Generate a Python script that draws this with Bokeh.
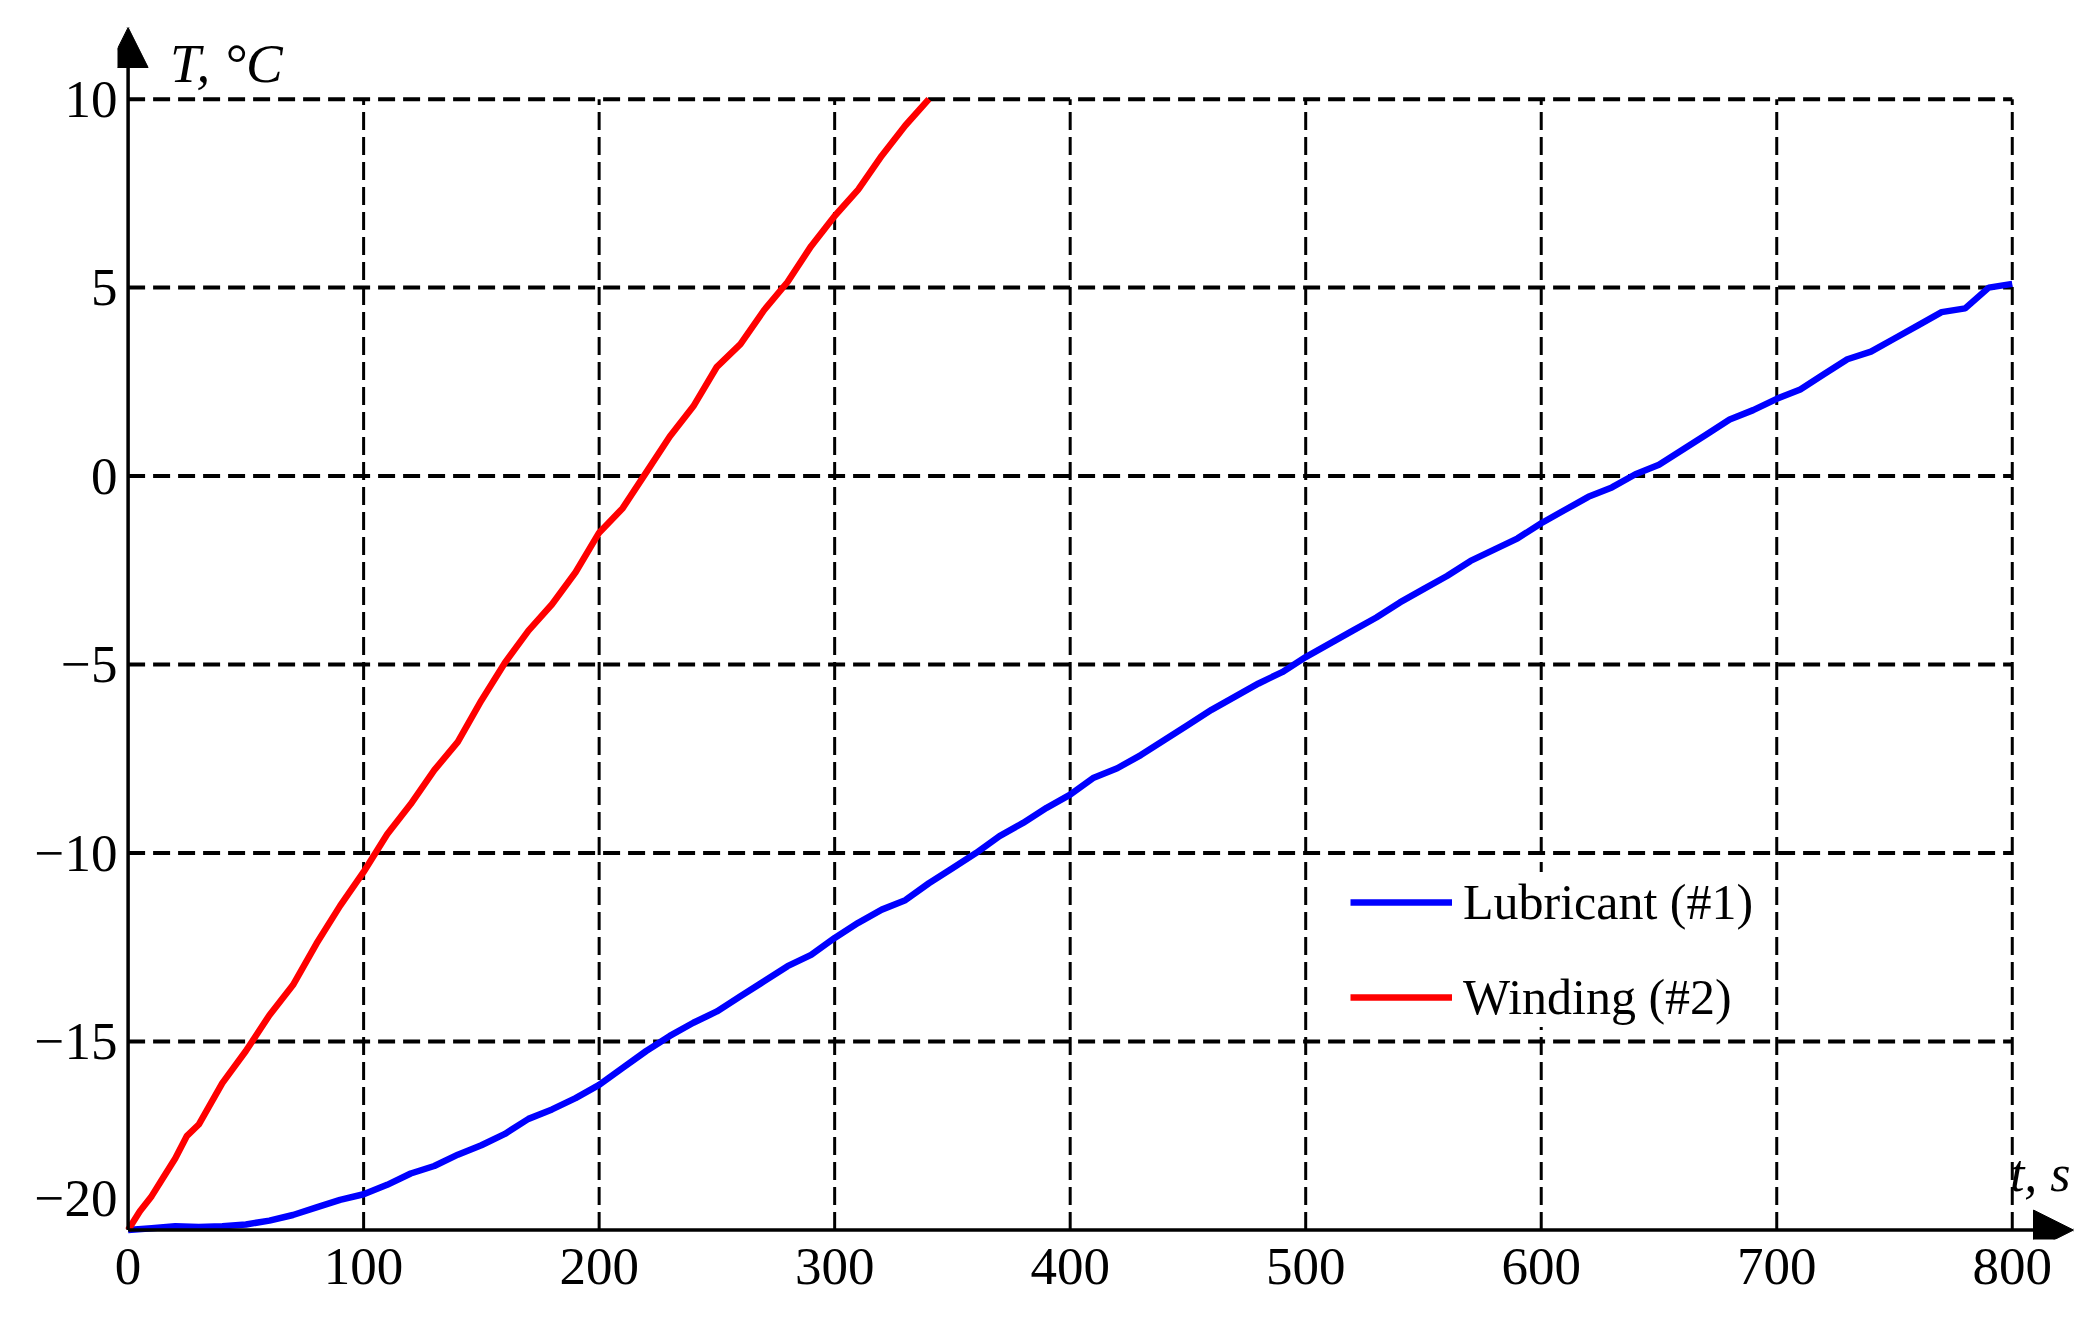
from bokeh.plotting import figure
from bokeh.models import Range1d, FixedTicker, Arrow, NormalHead, Label, Legend, LegendItem
from bokeh.embed import file_html
from bokeh.resources import INLINE

# ---------------- data ----------------
lubricant_time = list(range(0, 801, 10))
lubricant_temp = [
    -20.0, -19.95, -19.9, -19.92, -19.9, -19.85, -19.75, -19.6, -19.4, -19.2,
    -19.05, -18.8, -18.5, -18.3, -18.0, -17.75, -17.45, -17.05, -16.8, -16.5,
    -16.15, -15.7, -15.25, -14.85, -14.5, -14.2, -13.8, -13.4, -13.0, -12.7,
    -12.25, -11.85, -11.5, -11.25, -10.8, -10.4, -10.0, -9.55, -9.2, -8.8,
    -8.45, -8.0, -7.75, -7.4, -7.0, -6.6, -6.2, -5.85, -5.5, -5.2,
    -4.8, -4.45, -4.1, -3.75, -3.35, -3.0, -2.65, -2.25, -1.95, -1.65,
    -1.25, -0.9, -0.55, -0.3, 0.05, 0.3, 0.7, 1.1, 1.5, 1.75,
    2.05, 2.3, 2.7, 3.1, 3.3, 3.65, 4.0, 4.35, 4.45, 5.0,
    5.1,
]

winding_time = [0, 5, 10, 15, 20, 25, 30, 40, 50, 60, 70, 80, 90, 100, 110, 120, 130,
                140, 150, 160, 170, 180, 190, 200, 210, 220, 230, 240, 250, 260, 270,
                280, 290, 300, 310, 320, 330, 340]
winding_temp = [-20.0, -19.5, -19.1, -18.6, -18.1, -17.5, -17.2, -16.1, -15.25, -14.3,
                -13.5, -12.4, -11.4, -10.5, -9.5, -8.7, -7.8, -7.05, -5.95, -4.95,
                -4.1, -3.4, -2.55, -1.5, -0.85, 0.1, 1.05, 1.85, 2.9, 3.5,
                4.4, 5.15, 6.1, 6.9, 7.6, 8.5, 9.3, 10.0]

x_ticks = [0, 100, 200, 300, 400, 500, 600, 700, 800]
y_ticks = [-20, -15, -10, -5, 0, 5, 10]
y_tick_text = ["\u221220", "\u221215", "\u221210", "\u22125", "0", "5", "10"]
series_names = ["Lubricant (#1)", "Winding (#2)"]
x_title = "t, s"
y_title = "T, \u00b0C"

FONT = "Liberation Serif"

# the lowest y label is lifted above the horizontal axis (as in the original)
BOTTOM_LABEL_LIFT = 0.85
y_label_pos = [y_ticks[0] + BOTTOM_LABEL_LIFT] + y_ticks[1:]
y_label_map = {pos: txt for pos, txt in zip(y_label_pos, y_tick_text)}

# ---------------- figure ----------------
p = figure(width=2075, height=1301, output_backend="svg", toolbar_location=None,
           x_range=Range1d(-4.5, 826), y_range=Range1d(-20.25, 11.9),
           min_border_left=117, min_border_right=2, min_border_top=27,
           min_border_bottom=62)
p.outline_line_color = None
p.xgrid.visible = False
p.ygrid.visible = False

for ax in (p.xaxis[0], p.yaxis[0]):
    ax.axis_line_color = None
    ax.major_tick_line_color = None
    ax.minor_tick_line_color = None
    ax.major_tick_out = 0
    ax.major_tick_in = 0
    ax.major_label_text_font = FONT
    ax.major_label_text_font_size = "53px"
    ax.major_label_text_color = "black"
p.xaxis.major_label_standoff = 9
p.yaxis.major_label_standoff = 0

p.xaxis.ticker = FixedTicker(ticks=x_ticks)
p.yaxis.ticker = FixedTicker(ticks=y_label_pos)
p.yaxis.major_label_overrides = y_label_map

# dashed grid bounded to the data box
gx = x_ticks[1:]
p.segment(x0=gx, y0=[y_ticks[0]] * len(gx), x1=gx, y1=[y_ticks[-1]] * len(gx),
          line_color="black", line_width=3, line_dash="18 7")
gy = y_ticks[1:]
p.segment(x0=[x_ticks[0]] * len(gy), y0=gy, x1=[x_ticks[-1]] * len(gy), y1=gy,
          line_color="black", line_width=4, line_dash="17 8")

# curves
r1 = p.line(lubricant_time, lubricant_temp, line_color="#0000FF", line_width=6.5)
r2 = p.line(winding_time, winding_temp, line_color="#FF0000", line_width=6.5)

# axes with arrows
head_kw = dict(size=40, fill_color="black", line_color="black")
p.add_layout(Arrow(end=NormalHead(**head_kw), x_start=0, y_start=-20, x_end=826, y_end=-20,
                   line_color="black", line_width=3.5))
p.add_layout(Arrow(end=NormalHead(**head_kw), x_start=0, y_start=-20, x_end=0, y_end=11.9,
                   line_color="black", line_width=3.5))

# axis titles
p.add_layout(Label(x=17.8, y=10.95, text=y_title, text_font=FONT, text_font_style="italic",
                   text_font_size="55px", text_baseline="alphabetic", text_color="black"))
p.add_layout(Label(x=799.0, y=-18.5, text=x_title, text_font=FONT, text_font_style="italic",
                   text_font_size="52px", text_baseline="alphabetic", text_color="black"))

legend = Legend(items=[LegendItem(label=series_names[0], renderers=[r1]),
                       LegendItem(label=series_names[1], renderers=[r2])],
                location=(1233, 212), orientation="vertical",
                background_fill_color="white", background_fill_alpha=1.0,
                border_line_color=None, padding=12, spacing=35,
                glyph_width=102, glyph_height=60, label_height=60, label_standoff=11,
                label_text_font=FONT, label_text_font_size="50px",
                label_text_color="black", margin=0)
p.add_layout(legend)

open("out.html", "w").write(file_html(p, INLINE))
